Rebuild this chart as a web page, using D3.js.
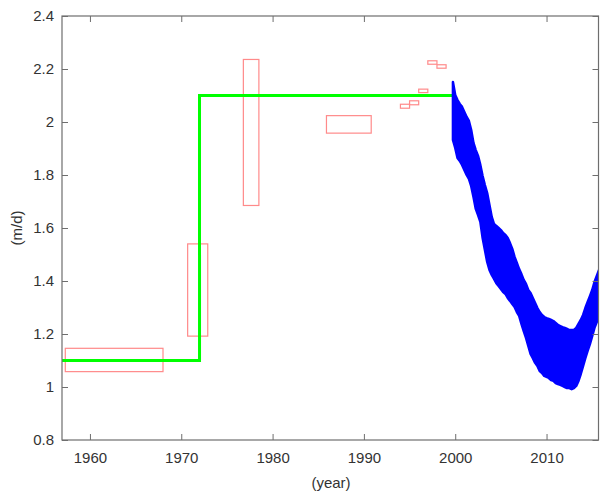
<!DOCTYPE html>
<html>
<head>
<meta charset="utf-8">
<script src="https://cdn.jsdelivr.net/npm/d3@7"></script>
<style>
  body { margin: 0; background: #fff; }
  svg { display: block; font-family: Arial, "Liberation Sans", sans-serif; }
</style>
</head>
<body>
<svg id="chart" width="600" height="495"></svg>
<script>
const width = 600;
const height = 495;

const xTicks = [1960, 1970, 1980, 1990, 2000, 2010];
const yTicks = [0.8, 1, 1.2, 1.4, 1.6, 1.8, 2, 2.2, 2.4];

// step line (green)
const stepYears = [1956.9, 1972, 1972, 2000];
const stepValues = [1.1, 1.1, 2.1, 2.1];

// red boxes: year range and value range
const boxYearStart = [1957.3, 1970.7, 1976.8, 1985.9, 1994, 1995, 1996, 1997, 1998];
const boxYearEnd   = [1968.0, 1972.9, 1978.5, 1990.8, 1995, 1996, 1997, 1998, 1999];
const boxLow       = [1.058, 1.192, 1.685, 1.958, 2.052, 2.065, 2.111, 2.218, 2.203];
const boxHigh      = [1.146, 1.540, 2.236, 2.024, 2.067, 2.080, 2.124, 2.231, 2.216];

// blue band (envelope of the oscillating series)
const bandYears = [1999.75, 2000, 2000.25, 2000.5, 2000.75, 2001, 2001.25, 2001.5, 2001.75,
  2002, 2002.25, 2002.5, 2002.75, 2003, 2003.25, 2003.5, 2003.75,
  2004, 2004.25, 2004.5, 2004.75, 2005, 2005.25, 2005.5, 2005.75,
  2006, 2006.25, 2006.5, 2006.75, 2007, 2007.25, 2007.5, 2007.75,
  2008, 2008.25, 2008.5, 2008.75, 2009, 2009.25, 2009.5, 2009.75,
  2010, 2010.25, 2010.5, 2010.75, 2011, 2011.25, 2011.5, 2011.75,
  2012, 2012.25, 2012.5, 2012.75, 2013, 2013.25, 2013.5, 2013.75,
  2014, 2014.25, 2014.5, 2014.75, 2015, 2015.25, 2015.5, 2015.75];
const bandHigh = [2.151, 2.102, 2.083, 2.068, 2.057, 2.038, 2.019, 2.004, 1.970,
  1.921, 1.894, 1.872, 1.838, 1.796, 1.762, 1.732, 1.687,
  1.642, 1.615, 1.608, 1.600, 1.592, 1.581, 1.574, 1.562,
  1.543, 1.521, 1.491, 1.468, 1.445, 1.426, 1.404, 1.389,
  1.366, 1.355, 1.336, 1.317, 1.298, 1.283, 1.272, 1.264,
  1.260, 1.257, 1.253, 1.249, 1.242, 1.234, 1.230, 1.226,
  1.223, 1.219, 1.215, 1.215, 1.215, 1.223, 1.238, 1.253,
  1.272, 1.298, 1.321, 1.343, 1.366, 1.396, 1.419, 1.442];
const bandLow = [1.932, 1.902, 1.864, 1.853, 1.838, 1.819, 1.800, 1.785, 1.758,
  1.717, 1.672, 1.649, 1.623, 1.562, 1.517, 1.472, 1.442,
  1.423, 1.408, 1.392, 1.381, 1.370, 1.358, 1.351, 1.336,
  1.325, 1.313, 1.302, 1.283, 1.268, 1.238, 1.211, 1.185,
  1.155, 1.125, 1.109, 1.091, 1.079, 1.060, 1.053, 1.042,
  1.038, 1.034, 1.026, 1.023, 1.015, 1.011, 1.008, 1.004,
  1.000, 0.996, 0.996, 0.992, 0.996, 1.004, 1.023, 1.049,
  1.079, 1.109, 1.136, 1.162, 1.192, 1.223, 1.245, 1.268];

const margin = { top: 16, right: 1.5, bottom: 55, left: 62 };
const x = d3.scaleLinear().domain([1956.94, 2015.69]).range([margin.left, width - margin.right]);
const y = d3.scaleLinear().domain([0.8, 2.4]).range([height - margin.bottom, margin.top]);

const svg = d3.select('#chart');

svg.append('defs').append('clipPath').attr('id', 'clip')
  .append('rect')
  .attr('x', margin.left).attr('y', margin.top)
  .attr('width', width - margin.right - margin.left)
  .attr('height', height - margin.bottom - margin.top);

const plot = svg.append('g').attr('clip-path', 'url(#clip)');

// red boxes
plot.selectAll('rect.box')
  .data(boxYearStart.map((d, i) => ({ x0: d, x1: boxYearEnd[i], lo: boxLow[i], hi: boxHigh[i] })))
  .enter().append('rect')
  .attr('class', 'box')
  .attr('x', d => x(d.x0))
  .attr('y', d => y(d.hi))
  .attr('width', d => x(d.x1) - x(d.x0))
  .attr('height', d => y(d.lo) - y(d.hi))
  .attr('fill', 'none')
  .attr('stroke', '#ff8a8a')
  .attr('stroke-width', 1.2);

// green step
plot.append('path')
  .datum(stepYears.map((d, i) => [d, stepValues[i]]))
  .attr('d', d3.line().x(d => x(d[0])).y(d => y(d[1])))
  .attr('fill', 'none')
  .attr('stroke', '#00ff00')
  .attr('stroke-width', 3);

// blue band
plot.append('path')
  .datum(bandYears.map((d, i) => ({ t: d, hi: bandHigh[i], lo: bandLow[i] })))
  .attr('d', d3.area().x(d => x(d.t)).y0(d => y(d.lo)).y1(d => y(d.hi)))
  .attr('fill', '#0000ff')
  .attr('stroke', '#0000ff')
  .attr('stroke-width', 2.5)
  .attr('stroke-linejoin', 'round');

// axes (box with inward ticks)
const axisColor = '#6e6e6e';
const labelColor = '#333';
const bottom = height - margin.bottom;

const styleAxis = g => {
  g.select('.domain').remove();
  g.selectAll('.tick line').attr('stroke', axisColor);
  g.selectAll('.tick text').attr('fill', labelColor).style('font-size', '15px');
};

svg.append('g')
  .attr('transform', `translate(0,${bottom})`)
  .call(d3.axisBottom(x).tickValues(xTicks).tickFormat(d3.format('d')).tickSizeInner(-6).tickPadding(12))
  .call(styleAxis);

svg.append('g')
  .attr('transform', `translate(0,${margin.top})`)
  .call(d3.axisTop(x).tickValues(xTicks).tickFormat('').tickSizeInner(-6))
  .call(styleAxis);

svg.append('g')
  .attr('transform', `translate(${margin.left},0)`)
  .call(d3.axisLeft(y).tickValues(yTicks).tickFormat(d => d3.format('~g')(d)).tickSizeInner(-6).tickPadding(8))
  .call(styleAxis);

svg.append('g')
  .attr('transform', `translate(${width - margin.right},0)`)
  .call(d3.axisRight(y).tickValues(yTicks).tickFormat('').tickSizeInner(-6))
  .call(styleAxis);

svg.append('rect')
  .attr('x', margin.left).attr('y', margin.top)
  .attr('width', width - margin.right - margin.left)
  .attr('height', bottom - margin.top)
  .attr('fill', 'none')
  .attr('stroke', axisColor)
  .attr('stroke-width', 1.2);

svg.selectAll('.tick text').style('font-family', 'Arial, "Liberation Sans", sans-serif');

// axis titles
svg.append('text')
  .attr('x', (margin.left + width) / 2)
  .attr('y', 488)
  .attr('text-anchor', 'middle')
  .attr('fill', labelColor)
  .style('font-size', '15px')
  .text('(year)');

svg.append('text')
  .attr('transform', `translate(22,${(margin.top + bottom) / 2}) rotate(-90)`)
  .attr('text-anchor', 'middle')
  .attr('fill', labelColor)
  .style('font-size', '15px')
  .text('(m/d)');
</script>
</body>
</html>
